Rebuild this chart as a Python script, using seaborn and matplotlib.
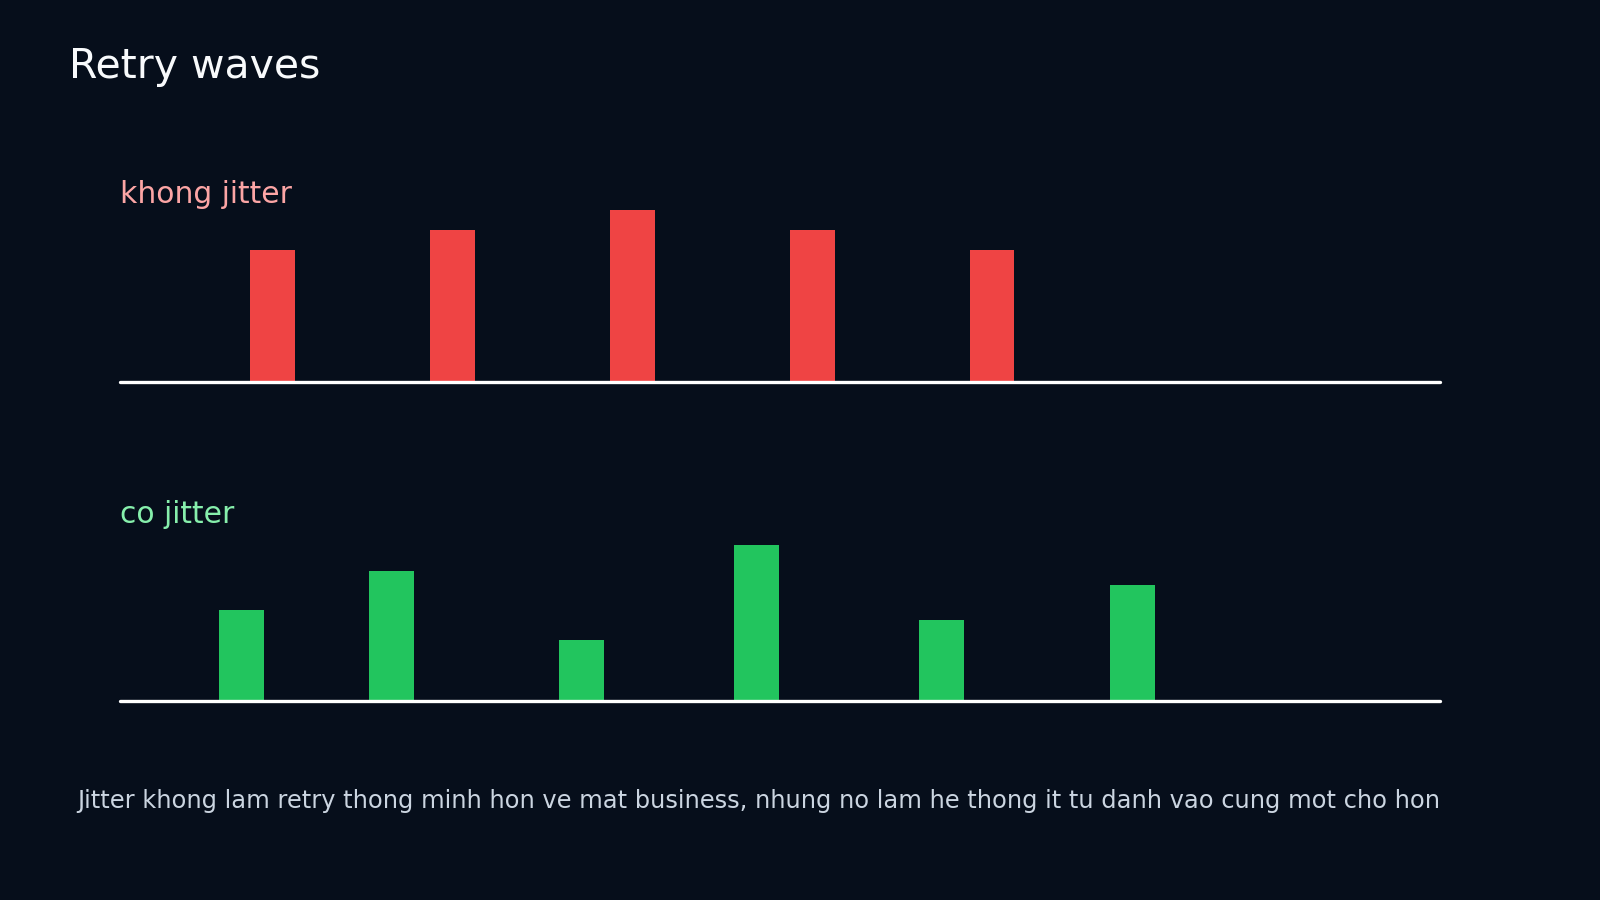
import numpy as np
import pandas as pd
import matplotlib
matplotlib.use("Agg")
import matplotlib.pyplot as plt
import seaborn as sns

# retry waves: time (s) and request volume
no_jitter_t = [1.0, 2.0, 3.0, 4.0, 5.0]
no_jitter_n = [13, 15, 17, 15, 13]
jitter_t = [0.83, 1.66, 2.72, 3.69, 4.72, 5.78]
jitter_n = [9, 12.9, 6.05, 15.45, 8, 11.5]

title = "Retry waves"
labels = ["khong jitter", "co jitter"]
footer = ("Jitter khong lam retry thong minh hon ve mat business, "
          "nhung no lam he thong it tu danh vao cung mot cho hon")

BG = "#060e1b"
sns.set_theme(style="white")
plt.rcParams["font.family"] = ["DejaVu Sans"]

fig = plt.figure(figsize=(16, 9), dpi=100, facecolor=BG)

bar_w = 0.25  # in time units
panels = [
    (no_jitter_t, no_jitter_n, "#ef4444", "#fca5a5", 0.576, 0.7744),
    (jitter_t, jitter_n, "#22c55e", "#86efac", 0.2211, 0.4194),
]

for (t, n, col, lab_col, bottom, lab_y), lab in zip(panels, labels):
    ax = fig.add_axes([0.0753, bottom, 0.9 - 0.0753, 0.2244])
    ax.set_facecolor(BG)
    df = pd.DataFrame({"t": t, "n": n})
    w = bar_w / np.min(np.diff(t))
    sns.barplot(data=df, x="t", y="n", native_scale=True, width=w,
                color=col, saturation=1, errorbar=None, linewidth=0,
                ax=ax, zorder=2)
    ax.axhline(0, color="white", lw=2.4, zorder=3, clip_on=False)
    ax.set_xlim(0.156, 7.49)
    ax.set_ylim(0, 20)
    ax.set_axis_off()
    fig.text(0.0753, lab_y, lab, color=lab_col, fontsize=21.4, va="baseline", ha="left")

fig.text(0.0434, 0.9135, title, color="#f8fafc", fontsize=29.5, va="baseline", ha="left")
fig.text(0.9, 0.102, footer, color="#cbd5e1", fontsize=17.35, va="baseline", ha="right")

fig.savefig("out.png", dpi=100, facecolor=BG)
